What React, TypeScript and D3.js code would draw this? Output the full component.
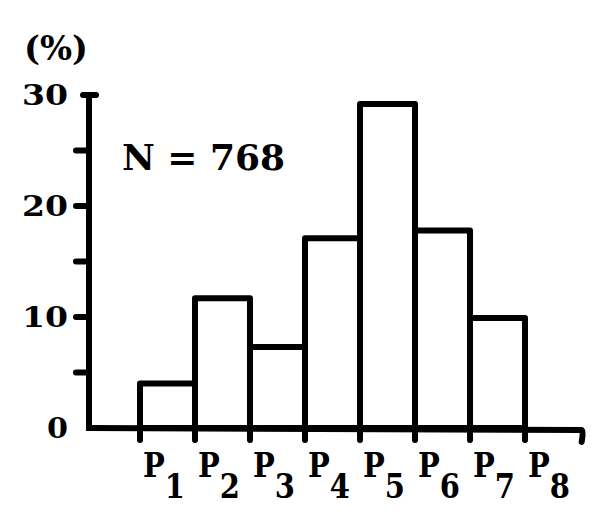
import React from "react";
import * as d3 from "d3";

const categories = ["P1", "P2", "P3", "P4", "P5", "P6", "P7", "P8"];
const boundaryLabels = ["1", "2", "3", "4", "5", "6", "7", "8"];
const percentages = [4.0, 11.7, 7.3, 17.1, 29.2, 17.8, 9.9];
const yTickLabels = [0, 10, 20, 30];
const yMinorTicks = [5, 15, 25];
const sampleNote = "N = 768";
const yUnit = "(%)";

export default function App() {
  const W = 600, H = 518;
  const x = d3.scaleLinear().domain([0, 7]).range([140, 525]);
  const y = d3.scaleLinear().domain([0, 30]).range([428, 95]);
  const axisX = 89;
  const baseY = y(0);
  const font = "'DejaVu Serif', 'Liberation Serif', serif";
  const sw = 6;

  return (
    <svg width={W} height={H} style={{ position: "absolute", left: 0, top: 0, background: "#fff" }}>
      <rect x={0} y={0} width={W} height={H} fill="#fff" />
      {/* bars */}
      {percentages.map((v, i) => (
        <rect
          key={i}
          x={x(i)}
          y={y(v)}
          width={x(i + 1) - x(i)}
          height={baseY - y(v)}
          fill="#fff"
          stroke="#000"
          strokeWidth={sw}
          strokeLinejoin="round"
        />
      ))}
      {/* y axis */}
      <line x1={axisX} y1={y(30)} x2={axisX} y2={baseY} stroke="#000" strokeWidth={sw} strokeLinecap="square" />
      <line x1={axisX - 6} y1={y(30)} x2={axisX + 7} y2={y(30)} stroke="#000" strokeWidth={sw} strokeLinecap="round" />
      {[...yTickLabels.filter((t) => t > 0 && t < 30), ...yMinorTicks].map((t) => (
        <line key={"yt" + t} x1={axisX - 13} y1={y(t)} x2={axisX} y2={y(t)} stroke="#000" strokeWidth={sw} strokeLinecap="round" />
      ))}
      {/* x axis */}
      <path
        d={`M${axisX},${baseY} L${x(8.03)},${baseY + 2} Q${x(8.03) + 2},${baseY + 3} ${x(8.03)},${baseY + 14}`}
        fill="none"
        stroke="#000"
        strokeWidth={sw}
        strokeLinecap="round"
        strokeLinejoin="round"
      />
      {categories.map((c, i) => (
        <line key={"xt" + c} x1={x(i)} y1={baseY} x2={x(i)} y2={baseY + 12} stroke="#000" strokeWidth={sw} strokeLinecap="round" />
      ))}
      {/* y tick labels */}
      {yTickLabels.map((t) => (
        <text
          key={"yl" + t}
          x={68}
          y={y(t) + 10}
          textAnchor="end"
          fontFamily={font}
          fontWeight="bold"
          fontSize={28}
          fill="#000"
          textLength={t === 0 ? 21 : 46}
          lengthAdjust="spacingAndGlyphs"
        >
          {t}
        </text>
      ))}
      <text x={24} y={60} fontFamily={font} fontWeight="bold" fontSize={34} fill="#000" textLength={64} lengthAdjust="spacingAndGlyphs">
        {yUnit}
      </text>
      <text x={122} y={170} fontFamily={font} fontWeight="bold" fontSize={36} fill="#000" textLength={163} lengthAdjust="spacing">
        {sampleNote}
      </text>
      {/* x labels */}
      {categories.map((c, i) => (
        <text
          key={"xl" + c}
          x={x(i) + 3}
          y={477}
          fontFamily={font}
          fontWeight="bold"
          fontSize={34}
          fill="#000"
          textLength={42}
          lengthAdjust="spacingAndGlyphs"
        >
          {c.charAt(0)}
          <tspan dy={21}>{boundaryLabels[i]}</tspan>
        </text>
      ))}
    </svg>
  );
}
